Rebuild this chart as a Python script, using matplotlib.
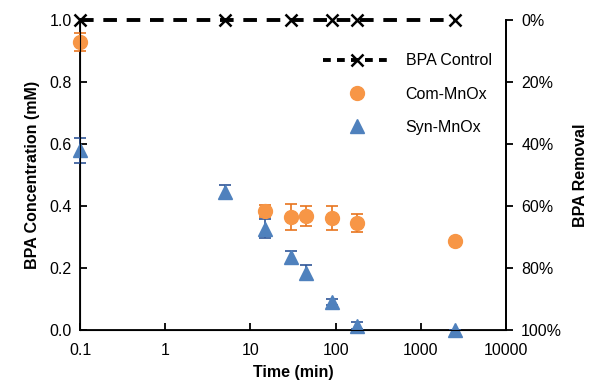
import matplotlib.pyplot as plt
from matplotlib.lines import Line2D
from matplotlib.ticker import FixedLocator, FuncFormatter

plt.rcParams['font.family'] = ['Liberation Sans', 'DejaVu Sans']

# data
ctrl_t = [0.1, 5, 30, 90, 180, 2500]
ctrl_c = [1.0, 1.0, 1.0, 1.0, 1.0, 1.0]

com_t = [0.1, 15, 30, 45, 90, 180, 2500]
com_c = [0.93, 0.385, 0.365, 0.367, 0.362, 0.347, 0.288]
com_err = [0.03, 0.02, 0.043, 0.032, 0.038, 0.029, 0.0]

syn_t = [0.1, 5, 15, 30, 45, 90, 180, 2500]
syn_c = [0.58, 0.447, 0.328, 0.237, 0.186, 0.092, 0.015, 0.0]
syn_err = [0.04, 0.02, 0.032, 0.02, 0.025, 0.01, 0.01, 0.0]

orange = '#F79646'
blue = '#4F81BD'
fs = 11.5

fig = plt.figure(figsize=(5.89, 3.88), dpi=100)
ax = fig.add_axes([0.136, 0.149, 0.723, 0.799])

ax.plot(ctrl_t, ctrl_c, color='black', linestyle=(0, (3.5, 2.5)), linewidth=2.8,
        marker='x', markersize=8, markeredgewidth=1.8, zorder=5, clip_on=False)
ax.errorbar(com_t, com_c, yerr=com_err, fmt='o', color=orange, ecolor='#E8741E',
            elinewidth=1.2, capsize=4, capthick=1.2, markersize=10,
            zorder=4, clip_on=False)
ax.errorbar(syn_t, syn_c, yerr=syn_err, fmt='^', color=blue, ecolor='#2F5597',
            elinewidth=1.2, capsize=4, capthick=1.2, markersize=10,
            zorder=4, clip_on=False)

ax.set_xscale('log')
ax.set_xlim(0.1, 10000)
ax.set_ylim(0, 1.0)
ax.xaxis.set_major_locator(FixedLocator([0.1, 1, 10, 100, 1000, 10000]))
ax.xaxis.set_major_formatter(FuncFormatter(lambda v, p: f'{v:g}'))
ax.xaxis.set_minor_locator(FixedLocator([]))
ax.set_yticks([0, 0.2, 0.4, 0.6, 0.8, 1.0])
ax.yaxis.set_major_formatter(FuncFormatter(lambda v, p: f'{v:.1f}'))
ax.tick_params(axis='both', direction='in', length=5, width=1.3, labelsize=fs, pad=6)
ax.tick_params(axis='x', pad=9)

for s in ['left', 'bottom', 'right']:
    ax.spines[s].set_linewidth(1.3)
ax.spines['top'].set_visible(False)

ax.set_xlabel('Time (min)', fontsize=fs, fontweight='bold', labelpad=5)
ax.set_ylabel('BPA Concentration (mM)', fontsize=fs, fontweight='bold', labelpad=7)

ax2 = ax.twinx()
ax2.set_ylim(1.0, 0)
ax2.set_yticks([0, 0.2, 0.4, 0.6, 0.8, 1.0])
ax2.yaxis.set_major_formatter(FuncFormatter(lambda v, p: f'{v*100:.0f}%'))
ax2.tick_params(axis='y', direction='out', length=5, width=1.3, labelsize=fs, pad=6)
ax2.spines['right'].set_linewidth(1.3)
ax2.spines['top'].set_visible(False)
ax2.set_ylabel('BPA Removal', fontsize=fs, fontweight='bold', labelpad=8)

handles = [
    Line2D([], [], color='black', linestyle=(0, (2.0, 1.6)), linewidth=2.8,
           marker='x', markersize=8, markeredgewidth=1.8),
    Line2D([], [], color=orange, linestyle='none', marker='o', markersize=10),
    Line2D([], [], color=blue, linestyle='none', marker='^', markersize=10),
]
ax.legend(handles, ['BPA Control', 'Com-MnOx', 'Syn-MnOx'], loc='upper right',
          bbox_to_anchor=(1.0, 0.94), frameon=False, fontsize=fs,
          handlelength=4.3, labelspacing=1.15, handletextpad=0.9)

fig.savefig('out.png', dpi=100)
